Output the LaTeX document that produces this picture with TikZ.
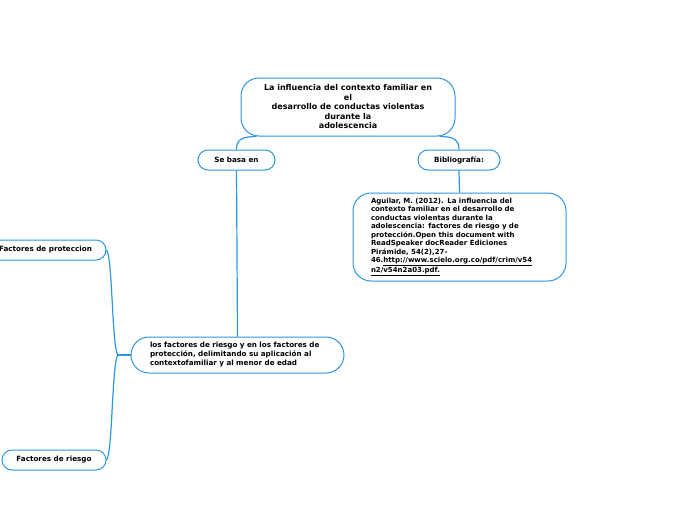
\documentclass[tikz,border=0pt]{standalone}
\usepackage{fontspec}
\setmainfont{DejaVu Sans}
\definecolor{mmblue}{RGB}{45,150,225}
\begin{document}
\begin{tikzpicture}[x=1pt,y=-1pt,
  box/.style={draw=mmblue, line width=1pt, fill=white, inner sep=0pt},
  pill/.style={box, rounded corners=10pt, minimum height=20pt, font=\bfseries\fontsize{7.2}{8}\selectfont},
  link/.style={draw=mmblue, line width=1.2pt}]
\useasboundingbox (0,0) rectangle (697,520);

\node[box, rounded corners=18pt, minimum width=214pt, minimum height=58pt, align=center,
  font=\bfseries\fontsize{8}{9.5}\selectfont] (main) at (348,107)
  {La influencia del contexto familiar en\\el\\desarrollo de conductas violentas\\durante la\\adolescencia};

\node[pill, minimum width=77pt] (sebasa) at (236.5,160) {Se basa en};
\node[pill, minimum width=82pt] (biblio) at (459,160) {Bibliografía:};

\node[box, rounded corners=18pt, minimum width=213pt, minimum height=88pt, inner xsep=18pt,
  text width=177pt, align=left, font=\bfseries\fontsize{7}{8.5}\selectfont] (ref) at (459.5,237)
  {Aguilar, M. (2012). La influencia del\\contexto familiar en el desarrollo de\\conductas violentas durante la\\adolescencia: factores de riesgo y de\\protección.Open this document with\\ReadSpeaker docReader Ediciones\\Pirámide, 54(2),27-\\46.\underline{http://www.scielo.org.co/pdf/crim/v54}\\\underline{n2/v54n2a03.pdf.}};

\node[box, rounded corners=18pt, minimum width=213pt, minimum height=36pt, inner xsep=19pt,
  text width=175pt, align=left, font=\bfseries\fontsize{7.2}{9}\selectfont] (factors) at (237.5,355)
  {los factores de riesgo y en los factores de\\protección, delimitando su aplicación al\\contextofamiliar y al menor de edad};

\node[pill, minimum width=121pt] (prot) at (45.5,250) {Factores de proteccion};
\node[pill, minimum width=104pt] (riesgo) at (54,460) {Factores de riesgo};

\draw[link] ([xshift=16pt]main.south west) .. controls +(-16,0) and +(0,-9) .. (sebasa.north);
\draw[link] ([xshift=-16pt]main.south east) .. controls +(16,0) and +(0,-9) .. (biblio.north);
\draw[link] (biblio.south) -- (ref.north);
\draw[link] (sebasa.south) -- (factors.north);

\coordinate (j) at (118,355);
\draw[link] (factors.west) -- (j);
\draw[link] (j) .. controls +(-6,-5) and +(6,5) .. (prot.east);
\draw[link] (j) .. controls +(-6,5) and +(6,-5) .. (riesgo.east);
\end{tikzpicture}
\end{document}
